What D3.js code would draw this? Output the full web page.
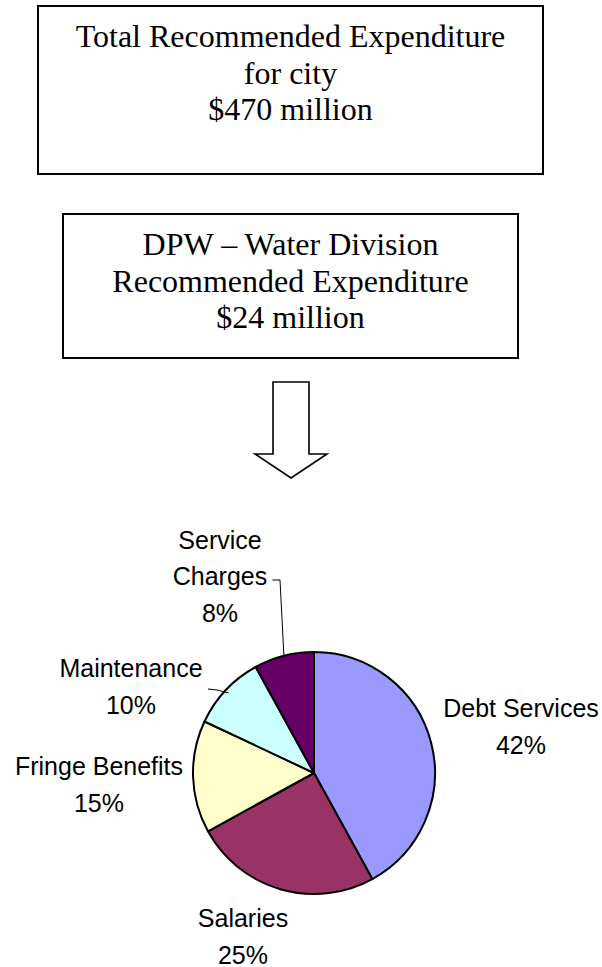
<!DOCTYPE html>
<html>
<head>
<meta charset="utf-8">
<script src="https://cdn.jsdelivr.net/npm/d3@7"></script>
<style>
  html, body { margin: 0; padding: 0; background: #fff; }
  svg { display: block; }
</style>
</head>
<body>
<svg id="chart" width="602" height="967"></svg>
<script>
// Expenditure breakdown for the DPW Water Division
const categories = ["Debt Services", "Salaries", "Fringe Benefits", "Maintenance", "Service Charges"];
const shares = [42, 25, 15, 10, 8];
const sliceColors = ["#9999FF", "#993366", "#FFFFCC", "#CCFFFF", "#660066"];
const cityBoxLines = ["Total Recommended Expenditure", "for city", "$470 million"];
const divisionBoxLines = ["DPW \u2013 Water Division", "Recommended Expenditure", "$24 million"];

const svg = d3.select("#chart");
const serif = "'Liberation Serif', 'Times New Roman', serif";
const sans = "'Liberation Sans', Arial, sans-serif";

// Framed text boxes
function textBox(x, y, w, h, lines) {
  const g = svg.append("g");
  g.append("rect")
    .attr("x", x).attr("y", y).attr("width", w).attr("height", h)
    .attr("fill", "#fff").attr("stroke", "#000").attr("stroke-width", 2);
  g.selectAll("text").data(lines).join("text")
    .attr("x", x + w / 2)
    .attr("y", (d, i) => y + 41 + i * 36.5)
    .attr("text-anchor", "middle")
    .attr("font-family", serif)
    .attr("font-size", 32)
    .attr("fill", "#000")
    .text(d => d);
}
textBox(38, 6, 505, 168, cityBoxLines);
textBox(63, 214, 455, 144, divisionBoxLines);

// Down arrow
const ax = 291, aTop = 382, aShaftBottom = 454, aTip = 478, shaftHalf = 18, headHalf = 36;
svg.append("path")
  .attr("d", d3.line()([
    [ax - shaftHalf, aTop], [ax + shaftHalf, aTop], [ax + shaftHalf, aShaftBottom],
    [ax + headHalf, aShaftBottom], [ax, aTip], [ax - headHalf, aShaftBottom],
    [ax - shaftHalf, aShaftBottom]
  ]) + "Z")
  .attr("fill", "#fff").attr("stroke", "#000").attr("stroke-width", 1.6);

// Pie, starting at 12 o'clock and running clockwise
const cx = 314, cy = 773, r = 121;
const pie = d3.pie().sort(null).value(d => d)(shares);
const arc = d3.arc().innerRadius(0).outerRadius(r);
const pg = svg.append("g").attr("transform", `translate(${cx},${cy})`);
pg.selectAll("path").data(pie).join("path")
  .attr("d", arc)
  .attr("fill", (d, i) => sliceColors[i])
  .attr("stroke", "#000").attr("stroke-width", 2).attr("stroke-linejoin", "round");

// Data labels: category name lines followed by the percentage
const labelSpecs = [
  { lines: ["Debt Services"], x: 521, y: 717 },
  { lines: ["Salaries"], x: 243, y: 927 },
  { lines: ["Fringe Benefits"], x: 99, y: 775 },
  { lines: ["Maintenance"], x: 131, y: 677 },
  { lines: ["Service", "Charges"], x: 220, y: 548.5 }
];
labelSpecs.forEach((s, i) => {
  const lines = s.lines.concat([d3.format("d")(shares[i]) + "%"]);
  svg.append("g").selectAll("text").data(lines).join("text")
    .attr("x", s.x)
    .attr("y", (d, j) => s.y + j * 36.5)
    .attr("text-anchor", "middle")
    .attr("font-family", sans)
    .attr("font-size", 25)
    .attr("fill", "#000")
    .text(d => d);
});

// Leader lines from the small slices to their labels
function edgePoint(i, rad) {
  const a = (pie[i].startAngle + pie[i].endAngle) / 2;
  return [cx + rad * Math.sin(a), cy - rad * Math.cos(a)];
}
const leader = d3.line();
svg.append("path")
  .attr("d", leader([[272.5, 580], [280, 580], edgePoint(4, r)]))
  .attr("fill", "none").attr("stroke", "#000").attr("stroke-width", 1);
svg.append("path")
  .attr("d", leader([[208, 689], [217, 690], edgePoint(3, r - 4)]))
  .attr("fill", "none").attr("stroke", "#000").attr("stroke-width", 1);
</script>
</body>
</html>
